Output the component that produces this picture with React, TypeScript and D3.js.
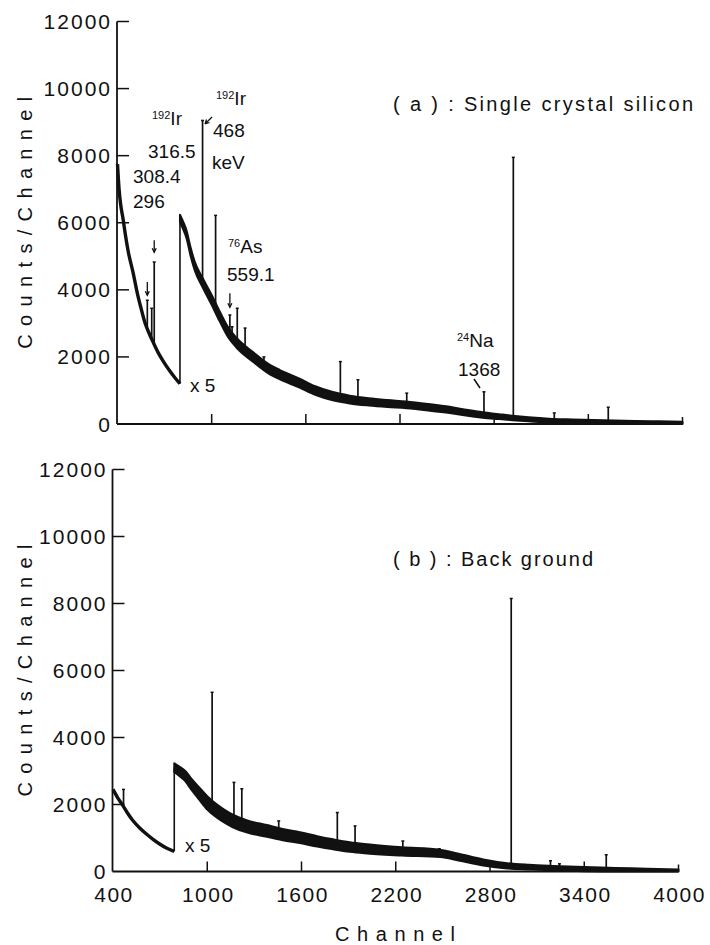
import React from 'react';
import * as d3 from 'd3';

// ---------- data ----------
const channelTicks = [400, 1000, 1600, 2200, 2800, 3400, 4000];
const countTicks = [0, 2000, 4000, 6000, 8000, 10000, 12000];

// (a) Single crystal silicon — low-channel part (shown x5)
const siliconLow: [number, number][] = [
  [400, 7750], [410, 7000], [420, 6550], [436, 6100], [450, 5650], [468, 5150],
  [500, 4500], [524, 3950], [550, 3450], [575, 3020], [600, 2720], [627, 2440],
  [660, 2120], [690, 1880], [730, 1600], [766, 1380], [798, 1200],
];
// (a) high-channel part
const siliconHigh: [number, number][] = [
  [798, 6130], [820, 5900], [840, 5650], [865, 5150], [893, 4700], [944, 4200],
  [1000, 3700], [1052, 3200], [1103, 2750], [1159, 2420], [1263, 2000], [1371, 1620],
  [1435, 1470], [1560, 1220], [1660, 1000], [1772, 830], [1880, 730], [2000, 660],
  [2120, 610], [2240, 570], [2380, 500], [2516, 420], [2620, 340], [2727, 270],
  [2830, 220], [2915, 180], [3020, 140], [3150, 100], [3300, 80], [3500, 60],
  [3700, 40], [3850, 30], [4000, 20],
];
// noise half-spread of the high-channel band: [channel, counts]
const siliconSpread: [number, number][] = [
  [798, 110], [1000, 150], [1400, 140], [2000, 110], [2600, 90], [3000, 60], [4000, 50],
];
// peaks: [channel, top count]
const siliconPeaks: [number, number][] = [
  [590, 3690], [618, 3450], [634, 4830], [942, 9050], [1025, 6220], [1116, 3250],
  [1130, 2900], [1163, 3450], [1213, 2860], [1333, 2000], [1820, 1860], [1932, 1320],
  [2243, 920], [2735, 960], [2922, 7950], [3183, 330], [3527, 500],
];
// small marker arrows: [channel, from count, to count]
const siliconArrows: [number, number, number][] = [
  [590, 4230, 3840], [634, 5480, 5120], [1116, 3900, 3480],
];

// (b) Back ground — low-channel part (shown x5)
const backgroundLow: [number, number][] = [
  [400, 2450], [430, 2200], [461, 1980], [490, 1760], [525, 1530], [570, 1300],
  [613, 1120], [655, 960], [697, 820], [740, 700], [790, 600],
];
const backgroundHigh: [number, number][] = [
  [790, 3100], [820, 3000], [860, 2850], [900, 2600], [950, 2320], [1000, 2050],
  [1060, 1810], [1110, 1650], [1163, 1510], [1250, 1350], [1380, 1210], [1480, 1100],
  [1590, 1010], [1700, 900], [1803, 810], [1908, 730], [2000, 680], [2240, 600],
  [2483, 540], [2600, 430], [2757, 270], [2910, 170], [3050, 130], [3200, 100],
  [3400, 70], [3600, 50], [3800, 30], [4000, 10],
];
const backgroundSpread: [number, number][] = [
  [790, 130], [1000, 200], [1300, 180], [1800, 150], [2500, 110], [3000, 70], [4000, 50],
];
const backgroundPeaks: [number, number][] = [
  [467, 2450], [1031, 5350], [1170, 2660], [1220, 2470], [1455, 1510], [1828, 1760],
  [1941, 1360], [2245, 910], [2477, 680], [2935, 8150], [3185, 320], [3242, 230],
  [3540, 500],
];

// ---------- layout ----------
const FONT = "'Liberation Sans', Arial, Helvetica, sans-serif";

type Panel = {
  key: string;
  xRange: [number, number];
  yRange: [number, number];
  low: [number, number][];
  high: [number, number][];
  spread: [number, number][];
  peaks: [number, number][];
  arrows: [number, number, number][];
  lowWidth: number;
  showXLabels: boolean;
};

const panels: Panel[] = [
  { key: 'a', xRange: [117.5, 682.5], yRange: [424, 21.5], low: siliconLow, high: siliconHigh, spread: siliconSpread, peaks: siliconPeaks, arrows: siliconArrows, lowWidth: 3.4, showXLabels: false },
  { key: 'b', xRange: [113, 678.5], yRange: [871.5, 469.5], low: backgroundLow, high: backgroundHigh, spread: backgroundSpread, peaks: backgroundPeaks, arrows: [], lowWidth: 3.4, showXLabels: true },
];

function PanelView({ p }: { p: Panel }) {
  const x = d3.scaleLinear().domain([400, 4000]).range(p.xRange);
  const y = d3.scaleLinear().domain([0, 12000]).range(p.yRange);
  const line = d3.line<[number, number]>().x(d => x(d[0])).y(d => y(d[1])).curve(d3.curveMonotoneX);
  const lowInterp = d3.scaleLinear().domain(p.low.map(d => d[0])).range(p.low.map(d => d[1]));
  const highInterp = d3.scaleLinear().domain(p.high.map(d => d[0])).range(p.high.map(d => d[1]));
  const spreadAt = d3.scaleLinear().domain(p.spread.map(d => d[0])).range(p.spread.map(d => d[1]));
  const baseAt = (c: number) => (c < p.high[0][0] ? lowInterp(c) : highInterp(c));
  const band = d3.area<[number, number]>()
    .x(d => x(d[0]))
    .y0(d => y(Math.max(0, d[1] - spreadAt(d[0]))))
    .y1(d => y(d[1] + spreadAt(d[0])))
    .curve(d3.curveMonotoneX);
  const x0 = x(400) - 0.5;
  const yBottom = y(0);
  const lowEnd = p.low[p.low.length - 1];
  return (
    <g>
      {/* axes */}
      <line x1={x0} x2={x0} y1={y(12000)} y2={yBottom} stroke="#111" strokeWidth={1.8} />
      <line x1={x0} x2={x(4000)} y1={yBottom} y2={yBottom} stroke="#111" strokeWidth={1.8} />
      {countTicks.filter(t => t > 0).map(t => (
        <line key={'yt' + t} x1={x0} x2={x0 + 12} y1={y(t)} y2={y(t)} stroke="#111" strokeWidth={1.5} />
      ))}
      {channelTicks.filter(t => t > 400).map(t => (
        <line key={'xt' + t} x1={x(t)} x2={x(t)} y1={yBottom} y2={yBottom - (t === 4000 ? 7 : 10)} stroke="#111" strokeWidth={1.5} />
      ))}
      {countTicks.map(t => (
        <text key={'yl' + t} x={x0 - 5} y={y(t)} dy="0.36em" textAnchor="end" fontSize={21} letterSpacing={2} fontFamily={FONT} fill="#111">{t}</text>
      ))}
      {p.showXLabels && channelTicks.map(t => (
        <text key={'xl' + t} x={x(t) + 1} y={902} textAnchor="middle" fontSize={21} letterSpacing={1.5} fontFamily={FONT} fill="#111">{t}</text>
      ))}
      {/* y axis title */}
      <text transform={`translate(32,${(p.yRange[0] + p.yRange[1]) / 2}) rotate(-90)`} textAnchor="middle" fontSize={20} fontFamily={FONT} fill="#111" textLength={252} lengthAdjust="spacing">Counts/Channel</text>
      {/* spectrum */}
      <path d={line(p.low) || ''} fill="none" stroke="#111" strokeWidth={p.lowWidth} strokeLinejoin="round" />
      <line x1={x(lowEnd[0])} x2={x(p.high[0][0])} y1={y(lowEnd[1])} y2={y(p.high[0][1])} stroke="#111" strokeWidth={1.6} />
      <path d={band(p.high) || ''} fill="#111" stroke="#111" strokeWidth={2} strokeLinejoin="round" />
      {p.peaks.map(([c, v]) => (
        <g key={'pk' + c}>
          <line x1={x(c)} x2={x(c)} y1={y(baseAt(c))} y2={y(v)} stroke="#111" strokeWidth={1.7} />
          <line x1={x(c) - 1.5} x2={x(c) + 1.5} y1={y(v)} y2={y(v)} stroke="#111" strokeWidth={1.5} />
        </g>
      ))}
      {p.arrows.map(([c, a, b]) => (
        <g key={'ar' + c}>
          <line x1={x(c)} x2={x(c)} y1={y(a)} y2={y(b)} stroke="#111" strokeWidth={1.3} />
          <path d={`M${x(c) - 2},${y(b) - 4} L${x(c)},${y(b)} L${x(c) + 2},${y(b) - 4}`} fill="none" stroke="#111" strokeWidth={1.3} />
        </g>
      ))}
    </g>
  );
}

export default function App() {
  const t = { fontFamily: FONT, fill: '#111' } as const;
  return (
    <svg width={710} height={945} style={{ position: 'absolute', left: 0, top: 0, background: '#fff' }}>
      <rect width={710} height={945} fill="#fff" />
      {panels.map(p => <PanelView key={p.key} p={p} />)}

      {/* panel (a) annotations */}
      <text x={393} y={111} fontSize={20} textLength={300} lengthAdjust="spacing" {...t}>( a ) : Single crystal silicon</text>
      <text x={152} y={125} {...t}><tspan fontSize={11} dy={-6}>192</tspan><tspan fontSize={19} dy={6}>Ir</tspan></text>
      <text x={148} y={158} fontSize={19} {...t}>316.5</text>
      <text x={133} y={183} fontSize={19} {...t}>308.4</text>
      <text x={133} y={208} fontSize={19} {...t}>296</text>
      <text x={216} y={105} {...t}><tspan fontSize={11} dy={-6}>192</tspan><tspan fontSize={19} dy={6}>Ir</tspan></text>
      <text x={213} y={137} fontSize={19} {...t}>468</text>
      <path d="M212,117 L205,124 M205,124 L206.5,119.5 M205,124 L209.5,122.5" fill="none" stroke="#111" strokeWidth={1.3} />
      <text x={212} y={169} fontSize={19} {...t}>keV</text>
      <text x={228} y={253} {...t}><tspan fontSize={11} dy={-6}>76</tspan><tspan fontSize={19} dy={6}>As</tspan></text>
      <text x={227} y={281} fontSize={19} {...t}>559.1</text>
      <text x={190} y={392} fontSize={19} {...t}>x 5</text>
      <text x={457} y={347} {...t}><tspan fontSize={11} dy={-6}>24</tspan><tspan fontSize={19} dy={6}>Na</tspan></text>
      <text x={458} y={376} fontSize={19} {...t}>1368</text>
      <line x1={474} y1={379} x2={480} y2={388} stroke="#111" strokeWidth={1.5} />

      {/* panel (b) annotations */}
      <text x={393} y={566} fontSize={20} textLength={200} lengthAdjust="spacing" {...t}>( b ) : Back ground</text>
      <text x={185} y={852} fontSize={19} {...t}>x 5</text>

      {/* x axis title */}
      <text x={335} y={941} fontSize={20} textLength={120} lengthAdjust="spacing" {...t}>Channel</text>
    </svg>
  );
}
